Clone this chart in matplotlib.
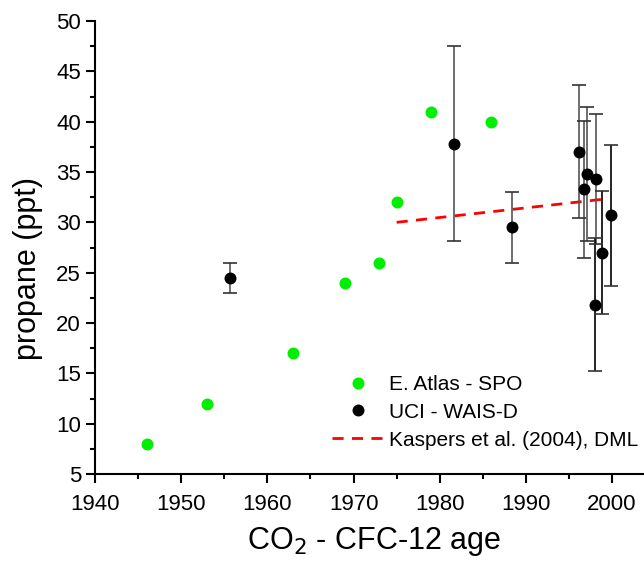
import matplotlib
matplotlib.use("Agg")
import matplotlib.pyplot as plt
from matplotlib.ticker import MultipleLocator
from matplotlib.lines import Line2D

plt.rcParams['font.family'] = ['Liberation Sans', 'DejaVu Sans']

# E. Atlas - SPO
atlas_year = [1946, 1953, 1963, 1969, 1973, 1975, 1979, 1986]
atlas_ppt = [8.0, 12.0, 17.0, 24.0, 26.0, 32.0, 41.0, 40.0]

# UCI - WAIS-D
uci_year = [1955.7, 1981.6, 1988.4, 1996.2, 1996.7, 1997.1, 1998.1, 1998.0, 1998.8, 1999.9]
uci_ppt = [24.5, 37.8, 29.5, 37.0, 33.3, 34.8, 34.3, 21.8, 27.0, 30.7]
uci_err = [1.5, 9.7, 3.5, 6.6, 6.8, 6.7, 6.5, 6.6, 6.1, 7.0]
uci_errcolor = ['#555555', '#555555', '#555555', '#555555', '#555555', '#555555', '#555555',
                'black', 'black', 'black']

# Kaspers et al. (2004), DML
kaspers_year = [1975, 1999]
kaspers_ppt = [30.0, 32.3]

labels = ['E. Atlas - SPO', 'UCI - WAIS-D', 'Kaspers et al. (2004), DML']

fig = plt.figure(figsize=(6.44, 5.67), dpi=100)
ax = fig.add_axes([95/644, 93/567, 1 - 95/644, (474-21)/567])

ax.plot(atlas_year, atlas_ppt, 'o', color='#00ee00', markersize=8.6, markeredgewidth=0,
        zorder=3)
eb = ax.errorbar(uci_year, uci_ppt, yerr=uci_err, fmt='o', color='black', markersize=8.6,
                 markeredgewidth=0, ecolor='black', elinewidth=1.2, capsize=5,
                 zorder=4)
for coll in eb[2]:
    coll.set_color(uci_errcolor)
for cap in eb[1]:
    cap.set_markeredgewidth(1.2)
    cap.set_markeredgecolor('#333333')
ax.plot(kaspers_year, kaspers_ppt, '--', color='red', linewidth=2, dashes=(4, 3),
        zorder=2)

ax.set_xlim(1940, 2003.7)
ax.set_ylim(5, 50)
ax.xaxis.set_major_locator(MultipleLocator(10))
ax.xaxis.set_minor_locator(MultipleLocator(5))
ax.yaxis.set_major_locator(MultipleLocator(5))
ax.yaxis.set_minor_locator(MultipleLocator(2.5))
ax.spines['top'].set_visible(False)
ax.spines['right'].set_visible(False)
for s in ('left', 'bottom'):
    ax.spines[s].set_linewidth(1.5)
ax.tick_params(which='major', length=6.5, width=1.5, labelsize=16, direction='out')
ax.tick_params(which='minor', length=3.5, width=1.5, direction='out')
ax.tick_params(axis='x', which='major', pad=8)

ax.set_xlabel('CO$_2$ - CFC-12 age', fontsize=22)
ax.set_ylabel('propane (ppt)', fontsize=22)
ax.xaxis.set_label_coords((374.5 - 95) / (644 - 95), -(541 - 474) / 453, transform=ax.transAxes)
ax.yaxis.set_label_coords(-(95 - 28) / 549, (474 - 268) / 453, transform=ax.transAxes)
ax.xaxis.label.set_va('center')
ax.yaxis.label.set_va('center')

h_atlas = Line2D([], [], marker='o', ls='none', color='#00ee00', markersize=8.6, markeredgewidth=0)
h_uci = Line2D([], [], marker='o', ls='none', color='black', markersize=8.6, markeredgewidth=0)
h_k = Line2D([], [], ls='--', color='red', linewidth=2, dashes=(4, 3))
leg = ax.legend([h_atlas, h_uci, h_k], labels, loc='upper left',
                bbox_to_anchor=(332/644, (567-375)/567), bbox_transform=fig.transFigure,
                frameon=False, fontsize=15, handlelength=2.45, handletextpad=0.3,
                labelspacing=0.42, borderpad=0, borderaxespad=0)

fig.savefig('out.png', dpi=100)
